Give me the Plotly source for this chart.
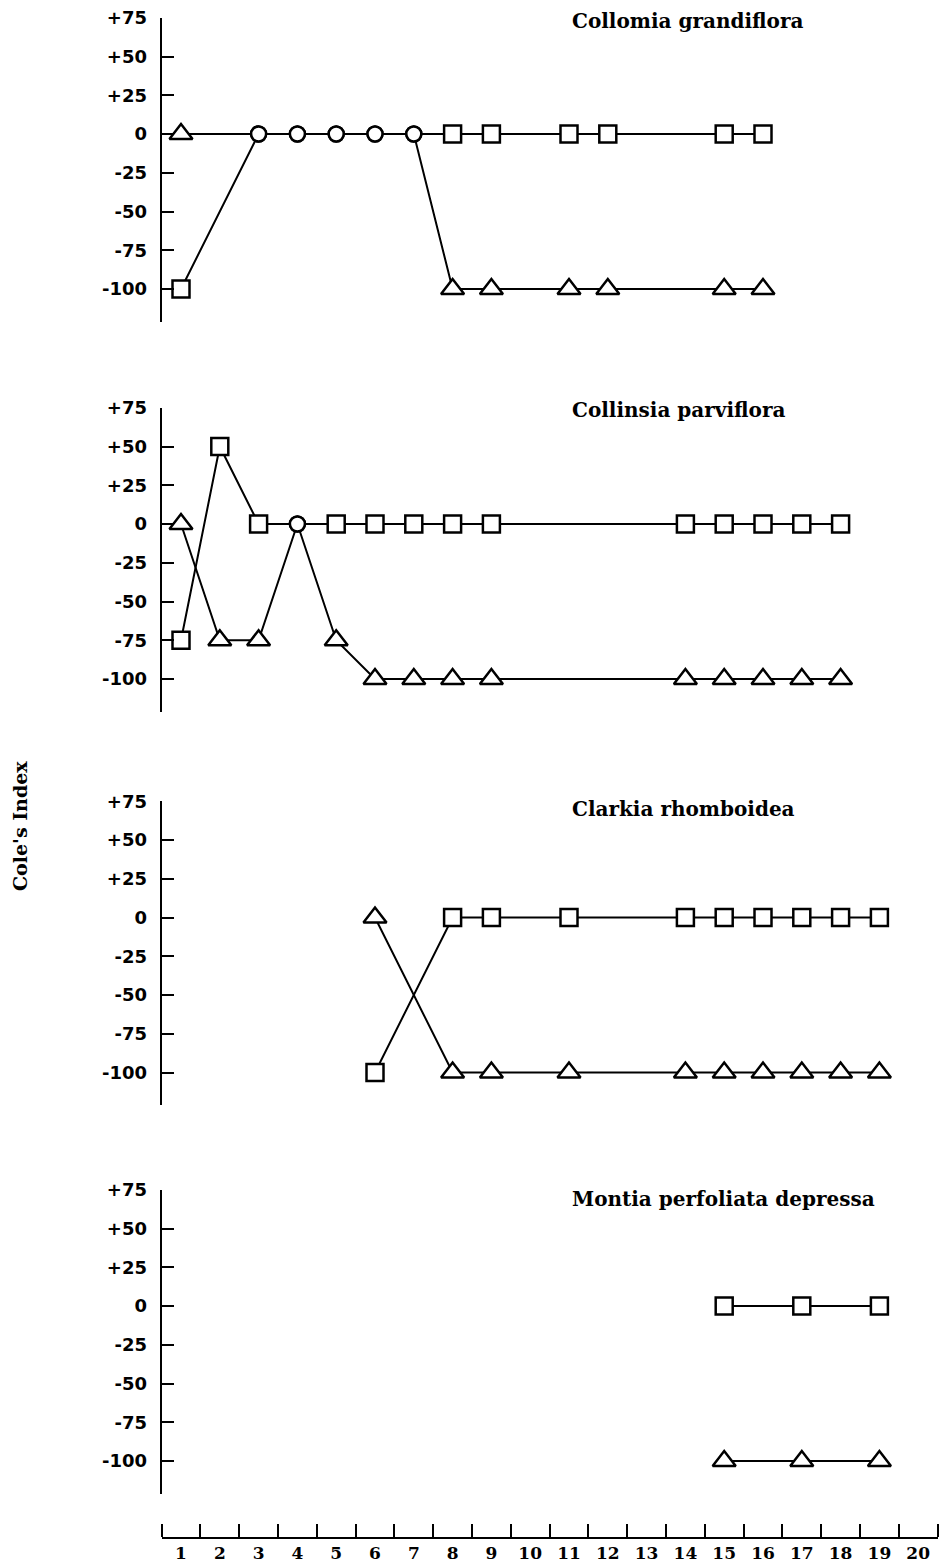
import plotly.graph_objects as go

# ---------------- data ----------------
species = ["Collomia grandiflora", "Collinsia parviflora",
           "Clarkia rhomboidea", "Montia perfoliata depressa"]

x_p1 = [1, 3, 4, 5, 6, 7, 8, 9, 11, 12, 15, 16]
sq_p1 = [-100, 0, 0, 0, 0, 0, 0, 0, 0, 0, 0, 0]
tr_p1 = [0, 0, 0, 0, 0, 0, -100, -100, -100, -100, -100, -100]

x_p2 = [1, 2, 3, 4, 5, 6, 7, 8, 9, 14, 15, 16, 17, 18]
sq_p2 = [-75, 50, 0, 0, 0, 0, 0, 0, 0, 0, 0, 0, 0, 0]
tr_p2 = [0, -75, -75, 0, -75, -100, -100, -100, -100, -100, -100, -100, -100, -100]

x_p3 = [6, 8, 9, 11, 14, 15, 16, 17, 18, 19]
sq_p3 = [-100, 0, 0, 0, 0, 0, 0, 0, 0, 0]
tr_p3 = [0, -100, -100, -100, -100, -100, -100, -100, -100, -100]

x_p4 = [15, 17, 19]
sq_p4 = [0, 0, 0]
tr_p4 = [-100, -100, -100]

y_tickvals = [-100, -75, -50, -25, 0, 25, 50, 75]
y_ticktext = ["-100", "-75", "-50", "-25", "0", "+25", "+50", "+75"]
x_tickvals = list(range(1, 21))
x_ticktext = [str(v) for v in x_tickvals]

y_title = "Cole's Index"

panels = [(x_p1, sq_p1, tr_p1), (x_p2, sq_p2, tr_p2),
          (x_p3, sq_p3, tr_p3), (x_p4, sq_p4, tr_p4)]

# ---------------- layout geometry (pixels) ----------------
W, H = 939, 1568
zero_px = [134, 524, 917.5, 1306]
px_per_unit = 1.55
y_lo, y_hi = -121, 75
x_lo, x_hi = 0.5, 20.5
x_dom = [161.6 / W, 937.6 / W]
title_px = [21, 410, 809, 1199]

fig = go.Figure()

for i, (xs, sq, tr) in enumerate(panels):
    ax = "" if i == 0 else str(i + 1)
    same = [a == b for a, b in zip(sq, tr)]
    sym_sq = ["circle" if s else "square" for s in same]
    sym_tr = ["circle" if s else "triangle-up" for s in same]
    size_sq = [15 if s else 17 for s in same]
    size_tr = [15 if s else 20 for s in same]
    # lines first
    for ys in (sq, tr):
        fig.add_trace(go.Scatter(x=xs, y=ys, mode="lines",
                                 line=dict(color="black", width=2),
                                 xaxis="x" + ax, yaxis="y" + ax,
                                 hoverinfo="skip"))
    # markers on top
    for ys, sym, sz in ((sq, sym_sq, size_sq), (tr, sym_tr, size_tr)):
        fig.add_trace(go.Scatter(x=xs, y=ys, mode="markers",
                                 marker=dict(symbol=sym, size=sz, color="white",
                                             opacity=1,
                                             line=dict(color="black", width=2.5)),
                                 xaxis="x" + ax, yaxis="y" + ax))

layout = dict(width=W, height=H, margin=dict(l=0, r=0, t=0, b=0),
              paper_bgcolor="white", plot_bgcolor="white", showlegend=False)

for i in range(4):
    ax = "" if i == 0 else str(i + 1)
    top = zero_px[i] - y_hi * px_per_unit
    bot = zero_px[i] - y_lo * px_per_unit
    layout["yaxis" + ax] = dict(
        domain=[1 - bot / H, 1 - top / H], range=[y_lo, y_hi],
        anchor="x" + ax, showline=True, linecolor="black", linewidth=2,
        tickmode="array", tickvals=y_tickvals, ticktext=y_ticktext,
        ticks="inside", ticklen=12, tickwidth=2, tickcolor="black",
        ticklabelstandoff=9,
        tickfont=dict(family="DejaVu Sans", size=18, color="black", weight="bold"),
        showgrid=False, zeroline=False, fixedrange=True, automargin=False)
    xa = dict(domain=x_dom, range=[x_lo, x_hi], anchor="y" + ax,
              showgrid=False, zeroline=False, fixedrange=True, automargin=False)
    if i < 3:
        xa["visible"] = False
    else:
        xa.update(anchor="free", position=1 - 1538 / H,
                  showline=True, linecolor="black", linewidth=2,
                  tickmode="array", tickvals=x_tickvals, ticktext=x_ticktext,
                  ticks="", ticklabelstandoff=0,
                  tickfont=dict(family="DejaVu Serif", size=17, color="black", weight="bold"),
                  minor=dict(tick0=0.5, dtick=1, ticks="inside", ticklen=13,
                             tickwidth=2, tickcolor="black", showgrid=False))
    layout["xaxis" + ax] = xa

annotations = []
for i, name in enumerate(species):
    annotations.append(dict(text=name, xref="paper", yref="paper",
                            x=570 / W, y=1 - title_px[i] / H,
                            xanchor="left", yanchor="middle", showarrow=False,
                            font=dict(family="DejaVu Serif", size=20, color="black",
                                      weight="bold")))
annotations.append(dict(text=y_title, xref="paper", yref="paper",
                        x=20 / W, y=1 - 826 / H, textangle=-90,
                        xanchor="center", yanchor="middle", showarrow=False,
                        font=dict(family="DejaVu Serif", size=19, color="black",
                                  weight="bold")))
layout["annotations"] = annotations

fig.update_layout(**layout)
fig.write_html("out.html")
